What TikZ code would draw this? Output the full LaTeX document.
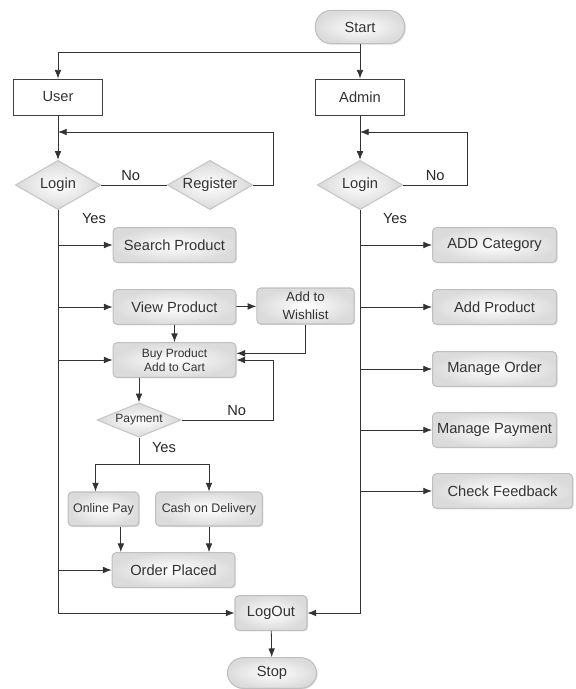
\documentclass[tikz,border=0pt]{standalone}
\usepackage{fontspec}
\setmainfont{Liberation Sans}
\usetikzlibrary{shapes,arrows,arrows.meta,positioning,shadows}
\tikzstyle{graybox}   = [rectangle, rounded corners=3pt, draw=gray!50, line width=0.8pt, inner color=white, outer color=gray!28, drop shadow={opacity=0.25, shadow xshift=0.8pt, shadow yshift=-0.8pt}, text=black!80, font=\fontsize{11}{13}\selectfont, minimum width=92pt, minimum height=26pt, inner sep=1pt, align=center]
\tikzstyle{plainbox}  = [rectangle, draw=black!75, line width=0.6pt, fill=white, minimum width=67pt, minimum height=27pt, text=black!80, font=\fontsize{11}{13}\selectfont]
\tikzstyle{decision}  = [diamond, aspect=2, draw=gray!45, line width=0.8pt, inner color=white, outer color=gray!30, minimum width=64pt, minimum height=37pt, inner sep=0pt, text=black!80, font=\fontsize{11}{13}\selectfont]
\tikzstyle{terminal}  = [rectangle, rounded corners=12pt, draw=gray!50, line width=0.8pt, inner color=white, outer color=gray!28, drop shadow={opacity=0.25, shadow xshift=0.8pt, shadow yshift=-0.8pt}, text=black!80, font=\fontsize{11}{13}\selectfont, minimum width=67pt, minimum height=25pt]
\tikzstyle{line}      = [draw, -{Latex[length=6.5pt, width=5pt]}, black!80, line width=0.6pt]
\tikzstyle{wire}      = [draw, black!80, line width=0.6pt]
\tikzstyle{lbl}       = [text=black!85, font=\fontsize{11}{13}\selectfont]

\begin{document}
\begin{tikzpicture}[x=0.75pt, y=-0.75pt]
        \useasboundingbox (0,0) rectangle (575,689);
        % start and the two roles
        \node [terminal] (start) at (360,27) {Start};
        \node [plainbox] (user) at (58,97) {User};
        \node [plainbox] (admin) at (360,97) {Admin};
        \coordinate (split) at (360,52);

        % user side
        \node [decision] (ulogin) at (58,185) {Login};
        \node [decision] (register) at (210,185) {Register};
        \coordinate (uback) at (58,132);
        \node [graybox] (search) at (174.5,245) {Search Product};
        \node [graybox] (view) at (174.5,307) {View Product};
        \node [graybox, minimum width=73pt, minimum height=27pt, font=\fontsize{10}{13.5}\selectfont] (wish) at (305.5,306) {Add to\\Wishlist};
        \node [graybox, font=\fontsize{9}{10.5}\selectfont] (buy) at (174.5,360) {Buy Product\\Add to Cart};
        \node [decision, minimum width=63pt, minimum height=25pt, font=\fontsize{9}{11}\selectfont] (pay) at (139,420) {Payment};
        \coordinate (psplit) at (139,464);
        \node [graybox, minimum width=53pt, minimum height=25.5pt, font=\fontsize{9.3}{11}\selectfont] (online) at (103.5,509) {Online Pay};
        \node [graybox, minimum width=80pt, minimum height=25.5pt, font=\fontsize{9.3}{11}\selectfont] (cash) at (209,509) {Cash on Delivery};
        \node [graybox] (order) at (173.5,570) {Order Placed};
        \node [graybox, minimum width=54pt] (logout) at (271,613) {LogOut};
        \node [terminal, minimum height=23pt] (stop) at (272,673) {Stop};

        % admin side
        \node [decision] (alogin) at (360,185) {Login};
        \coordinate (aback) at (360,132);
        \node [graybox, minimum width=93pt, anchor=west] (addcat) at (432,245) {ADD Category};
        \node [graybox, minimum width=93pt, anchor=west] (addprod) at (432,307) {Add Product};
        \node [graybox, minimum width=93pt, anchor=west] (morder) at (432,369) {Manage Order};
        \node [graybox, minimum width=93pt, anchor=west] (mpay) at (432,430) {Manage Payment};
        \node [graybox, minimum width=105pt, anchor=west] (feedback) at (432,491) {Check Feedback};

        \node [lbl] (uyes) at (94,219) {Yes};
        \node [lbl] (ayes) at (395,219) {Yes};
        \node [lbl] (pyes) at (164,448) {Yes};

        % connectors
        \path [wire] (start) -- (split);
        \path [line] (split) -| (user);
        \path [line] (split) -- (admin);

        \path [line] (user) -- (ulogin);
        \path [wire] (ulogin) -- node [lbl, above, pos=0.45] {No} (register);
        \path [line] (register.east) -- ++(20,0) |- (uback);
        \path [line] (search.west -| ulogin.south) -- (search);
        \path [line] (view.west -| ulogin.south) -- (view);
        \path [line] (buy.west -| ulogin.south) -- (buy);
        \path [line] (order.west -| ulogin.south) -- (order);
        \path [line] (ulogin.south) |- (logout.west);

        \path [line] (view) -- (wish);
        \path [line] (view) -- (buy);
        \path [line] (wish.south) |- ([yshift=5pt]buy.east);
        \path [line] (buy.south -| pay.north) -- (pay.north);
        \path [line] (pay.east) -- node [lbl, above, pos=0.6] {No} ++(92,0) |- (buy.east);
        \path [wire] (pay.south) -- (psplit);
        \path [line] (psplit) -| ([xshift=-6pt]online.north);
        \path [line] (psplit) -| (cash.north);
        \path [line] ([xshift=13pt]online.south) -- ([xshift=13pt]online.south |- order.north);
        \path [line] (cash.south) -- (cash.south |- order.north);

        \path [line] (admin) -- (alogin);
        \path [line] (alogin.east) -- node [lbl, above] {No} ++(64,0) |- (aback);
        \path [line] (addcat.west -| alogin.south) -- (addcat);
        \path [line] (addprod.west -| alogin.south) -- (addprod);
        \path [line] (morder.west -| alogin.south) -- (morder);
        \path [line] (mpay.west -| alogin.south) -- (mpay);
        \path [line] (feedback.west -| alogin.south) -- (feedback);
        \path [line] (alogin.south) |- (logout.east);

        \path [line] (logout) -- (stop);
      \end{tikzpicture}
\end{document}
